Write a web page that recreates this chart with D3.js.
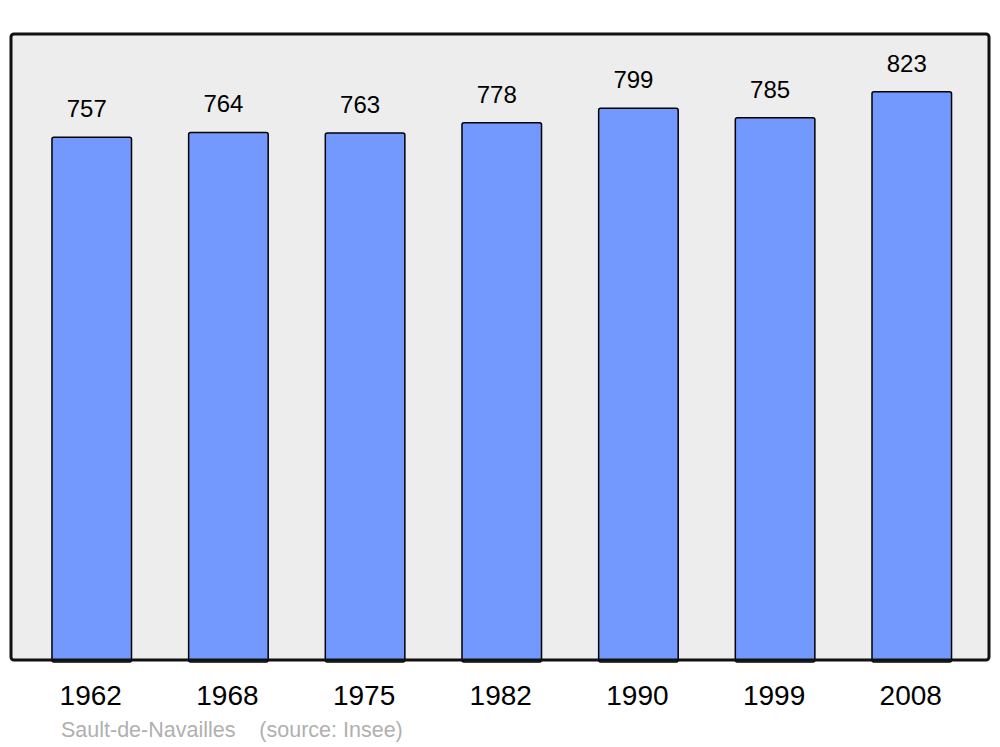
<!DOCTYPE html>
<html>
<head>
<meta charset="utf-8">
<script src="https://cdn.jsdelivr.net/npm/d3@7"></script>
<style>
  body { margin: 0; background: #fff; }
  text { font-family: "Liberation Sans", Arial, sans-serif; }
</style>
</head>
<body>
<div id="chart"></div>
<script>
'use strict'

const years = ["1962", "1968", "1975", "1982", "1990", "1999", "2008"]
const population = [757, 764, 763, 778, 799, 785, 823]
const commune = "Sault-de-Navailles"
const source = "(source: Insee)"

const width = 1000, height = 747
const panel = {x: 11, y: 34, w: 978, h: 626}

const svg = d3.select("#chart").append("svg")
  .attr("width", width)
  .attr("height", height)

svg.append("rect")
  .attr("x", panel.x).attr("y", panel.y)
  .attr("width", panel.w).attr("height", panel.h)
  .attr("rx", 3)
  .attr("fill", "#ededed")

let x = d3.scaleBand()
  .domain(years)
  .range([23.4, 980.1])
  .paddingInner(0.418)
  .paddingOuter(0.209)

let y = d3.scaleLinear()
  .domain([0, 905])
  .range([panel.y + panel.h, 35])

const bars = svg.append("g")

bars.selectAll("rect")
  .data(population)
  .enter().append("rect")
    .attr("x", (d, i) => x(years[i]))
    .attr("y", d => y(d))
    .attr("width", x.bandwidth())
    .attr("height", d => y(0) - y(d) + 2)
    .attr("rx", 2)
    .attr("fill", "#7399ff")
    .attr("stroke", "#000")
    .attr("stroke-width", 1.5)

bars.selectAll("text")
  .data(population)
  .enter().append("text")
    .attr("x", (d, i) => x(years[i]) + x.bandwidth() / 2 - 5)
    .attr("y", d => y(d) - 20)
    .attr("text-anchor", "middle")
    .attr("font-size", 24)
    .attr("fill", "#000")
    .text(d => d)

// frame drawn on top so its stroke covers the bar bottoms
svg.append("rect")
  .attr("x", panel.x).attr("y", panel.y)
  .attr("width", panel.w).attr("height", panel.h)
  .attr("rx", 3)
  .attr("fill", "none")
  .attr("stroke", "#111")
  .attr("stroke-width", 3)

svg.append("g")
  .selectAll("text")
  .data(years)
  .enter().append("text")
    .attr("x", d => x(d) + x.bandwidth() / 2 - 1)
    .attr("y", 705)
    .attr("text-anchor", "middle")
    .attr("font-size", 28)
    .attr("fill", "#000")
    .text(d => d)

svg.append("text")
  .attr("x", 61)
  .attr("y", 737)
  .attr("font-size", 21.5)
  .attr("fill", "#b0b0b0")
  .attr("xml:space", "preserve")
  .style("white-space", "pre")
  .text(commune + "    " + source)
</script>
</body>
</html>
